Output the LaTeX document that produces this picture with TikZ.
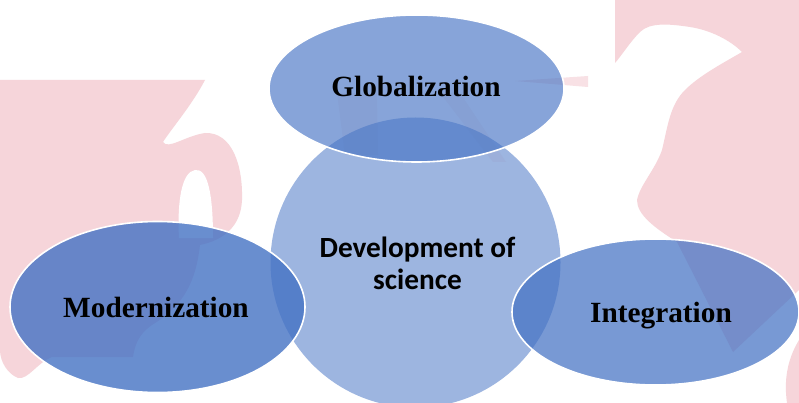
\documentclass[tikz,border=0pt]{standalone}
\usepackage{fontspec}
\usetikzlibrary{shapes.geometric}
\newfontfamily\serifbold{Liberation Serif}
\newfontfamily\sansbold{Carlito}
\definecolor{pinkwm}{RGB}{246,213,218}
\definecolor{accent}{RGB}{68,114,196}
\begin{document}
\begin{tikzpicture}[x=1pt,y=-1pt,
  blob/.style={ellipse, draw=white, line width=1.6pt, inner sep=0pt, outer sep=0pt, fill=accent},
  lbl/.style={anchor=base, inner sep=0pt, font=\serifbold\bfseries\fontsize{29.3}{34}\selectfont},
  ctr/.style={anchor=base, inner sep=0pt, font=\sansbold\bfseries\fontsize{29.3}{34}\selectfont},
  wm/.style={fill=pinkwm}]
\useasboundingbox (0,0) rectangle (799,403);
\clip (0,0) rectangle (799,403);
\fill[white] (0,0) rectangle (799,403);
% watermark, left part
\fill[wm] (0,80) -- (205,80) .. controls (192,105) and (172,128) .. (163,142)
  .. controls (168,150) and (185,136) .. (205,133)
  .. controls (232,132) and (243,165) .. (242,200)
  .. controls (241,225) and (225,240) .. (200,245)
  .. controls (196,280) and (185,305) .. (152,325)
  .. controls (138,335) and (135,345) .. (133,357) -- (52,357)
  .. controls (38,362) and (28,380) .. (18,378)
  .. controls (8,374) and (0,362) .. (0,350) -- cycle;
\fill[white] (179,238) .. controls (177,200) and (182,172) .. (195,170)
  .. controls (208,168) and (213,195) .. (213,238) -- cycle;
% watermark, right part with the dove
\fill[wm] (615,0) -- (799,0) -- (799,290) -- (733,352) -- (677,242)
  .. controls (655,228) and (637,215) .. (637,200)
  .. controls (640,185) and (655,170) .. (662,150)
  .. controls (668,125) and (670,105) .. (685,90)
  .. controls (700,75) and (725,62) .. (742,52)
  .. controls (730,40) and (710,30) .. (690,27)
  .. controls (670,24) and (650,22) .. (640,32)
  .. controls (630,42) and (622,55) .. (615,63) -- cycle;
\fill[wm] (799,340) .. controls (790,355) and (783,375) .. (787,403) -- (799,403) -- cycle;
\fill[wm, opacity=.7] (515,81) -- (588,76) -- (588,87) -- cycle;
\fill[wm, opacity=.3] (337,93) -- (377,93) -- (378,155) -- (345,155) -- cycle;
\fill[wm, opacity=.3] (440,93) -- (460,93) -- (506,162) -- (493,162) -- cycle;
% shapes
\node[circle, fill=accent, fill opacity=.52, minimum size=290pt, inner sep=0pt, outer sep=0pt] (core) at (415.5,262.5) {};
\node[blob, fill opacity=.64, minimum width=295pt, minimum height=147pt] (glob) at (416.5,88.5) {};
\node[blob, fill opacity=.8, minimum width=295pt, minimum height=171pt] (mod) at (157.5,307) {};
\node[blob, fill opacity=.72, minimum width=287pt, minimum height=146pt] (integ) at (655.5,312) {};
% labels
\node[lbl] (tglob) at (416,97) {Globalization};
\node[lbl] (tmod) at (156,317) {Modernization};
\node[lbl] (tint) at (661,322) {Integration};
\node[ctr] (tdev1) at (417.5,257) {Development of};
\node[ctr] (tdev2) at (417.5,289.5) {science};
\end{tikzpicture}
\end{document}
